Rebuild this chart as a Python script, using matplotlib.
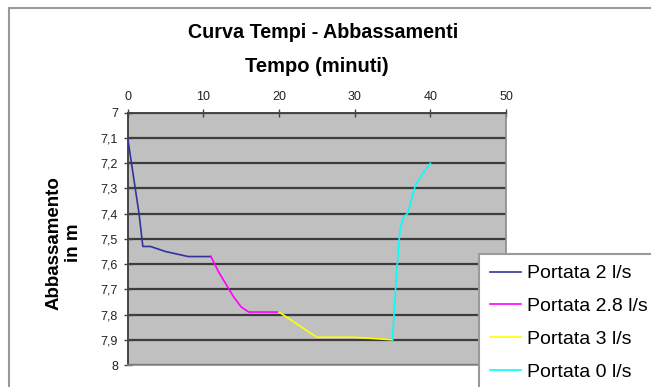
import matplotlib
matplotlib.use("Agg")
import matplotlib.pyplot as plt
from matplotlib.patches import Rectangle
from matplotlib.ticker import FuncFormatter

plt.rcParams['font.family'] = ['Liberation Sans', 'DejaVu Sans']

# Data
t_2 = [0, 0.5, 1, 1.5, 2, 3, 5, 8, 11]
s_2 = [7.1, 7.2, 7.3, 7.4, 7.53, 7.53, 7.55, 7.57, 7.57]
t_28 = [11, 12, 13, 14, 15, 16, 18, 20]
s_28 = [7.57, 7.63, 7.68, 7.73, 7.77, 7.79, 7.79, 7.79]
t_3 = [20, 25, 30, 35]
s_3 = [7.79, 7.89, 7.89, 7.9]
t_0 = [35, 35.5, 36, 36.5, 37, 38, 39, 40]
s_0 = [7.9, 7.65, 7.46, 7.41, 7.4, 7.29, 7.24, 7.2]

labels = ['Portata 2 l/s', 'Portata 2.8 l/s', 'Portata 3 l/s', 'Portata 0 l/s']
colors = ['#333399', '#FF00FF', '#FFFF00', '#00FFFF']
x_ticks = [0, 10, 20, 30, 40, 50]
y_ticks = [7.0, 7.1, 7.2, 7.3, 7.4, 7.5, 7.6, 7.7, 7.8, 7.9, 8.0]

fig = plt.figure(figsize=(6.51, 3.87), dpi=100)
fig.patch.set_facecolor('white')
# outer chart frame (right and bottom edges fall outside the picture)
fig.patches.append(Rectangle((9/651, -0.1), 1.2, 1 - 8/387 + 0.1, transform=fig.transFigure,
                             fill=False, edgecolor='#9a9a9a', linewidth=1.5, zorder=0))

ax = fig.add_axes([127.7/651, 1 - 365/387, (506 - 127.7)/651, (365 - 112.8)/387])
ax.set_facecolor('#C0C0C0')

series = [(t_2, s_2), (t_28, s_28), (t_3, s_3), (t_0, s_0)]
for (t, s), c, lab in zip(series, colors, labels):
    ax.plot(t, s, color=c, linewidth=1.2, label=lab, zorder=3)

ax.set_xlim(0, 50)
ax.set_ylim(8, 7)
ax.set_xticks(x_ticks)
ax.set_yticks(y_ticks)
ax.yaxis.set_major_formatter(FuncFormatter(lambda v, p: ('%g' % round(v, 1)).replace('.', ',')))
ax.xaxis.tick_top()
ax.xaxis.set_label_position('top')
ax.tick_params(axis='x', direction='inout', length=6, width=1, colors='#444444', labelcolor='#222222',
               labelsize=9, pad=4)
ax.tick_params(axis='y', direction='inout', length=6, width=1, colors='#444444', labelcolor='#222222',
               labelsize=9, pad=4)
ax.grid(axis='y', color='#3c3c3c', linewidth=1.6, zorder=1)
ax.grid(axis='x', visible=False)
ax.set_axisbelow(True)
for side in ['left', 'top']:
    ax.spines[side].set_color('#444444')
    ax.spines[side].set_linewidth(1.4)
for side in ['right', 'bottom']:
    ax.spines[side].set_color('#8a8a8a')
    ax.spines[side].set_linewidth(1.2)

fig.text(317/651, 1 - 66/387, 'Tempo (minuti)', ha='center', va='center',
         fontsize=14.5, fontweight='bold')
fig.text(64/651, 1 - 243/387, 'Abbassamento\nin m', rotation=90, ha='center', va='center',
         fontsize=13.5, fontweight='bold', linespacing=1.2)
fig.text(323/651, 1 - 32/387, 'Curva Tempi - Abbassamenti', ha='center', va='center',
         fontsize=14.2, fontweight='bold')

leg = fig.legend(loc='upper left', bbox_to_anchor=(479/651, 1 - 254/387), fontsize=14,
                 frameon=True, fancybox=False, edgecolor='#9a9a9a', framealpha=1,
                 labelspacing=0.78, handlelength=1.6, handletextpad=0.3, borderpad=0.55,
                 borderaxespad=0)
leg.get_frame().set_linewidth(1.5)

fig.savefig('out.png', dpi=100)
